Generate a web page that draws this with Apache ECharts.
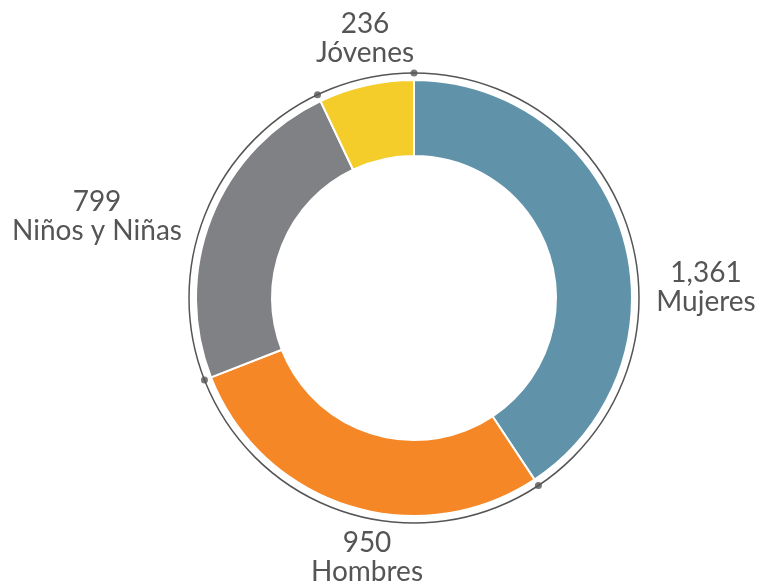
<!DOCTYPE html>
<html><head><meta charset="utf-8">
<script src="https://cdn.jsdelivr.net/npm/echarts@6/dist/echarts.min.js"></script>
<style>html,body{margin:0;padding:0;background:#fff}#c{width:758px;height:586px}</style>
</head><body><div id="c"></div>
<script>
const categories = ['Mujeres', 'Hombres', 'Niños y Niñas', 'Jóvenes'];
const values = [1361, 950, 799, 236];
const valueLabels = ['1,361', '950', '799', '236'];
const colors = ['#6093a9', '#f58727', '#808184', '#f4cd2a'];

const total = values.reduce((a, b) => a + b, 0);
const bounds = [];
let acc = 0;
values.forEach(v => { bounds.push([1, acc]); acc += v; });

const labelPos = [[706, 287], [367, 557], [97, 216], [365, 38]];

const chart = echarts.init(document.getElementById('c'));
chart.setOption({
  animation: false,
  polar: { center: [414, 298], radius: 225 },
  angleAxis: {
    type: 'value', min: 0, max: total, startAngle: 90, clockwise: true,
    axisLine: { show: true, lineStyle: { color: '#555', width: 1.5 } },
    axisTick: { show: false }, axisLabel: { show: false }, splitLine: { show: false }
  },
  radiusAxis: {
    type: 'value', min: 0, max: 1,
    axisLine: { show: false }, axisTick: { show: false }, axisLabel: { show: false }, splitLine: { show: false }
  },
  series: [
    {
      type: 'pie',
      center: [414, 298],
      radius: [142, 218],
      startAngle: 90,
      clockwise: true,
      silent: true,
      itemStyle: { borderColor: '#fff', borderWidth: 2 },
      label: {
        show: true,
        position: 'outside',
        overflow: 'none',
        width: 300,
        formatter: p => '{v|' + valueLabels[p.dataIndex] + '}\n{n|' + p.name + '}',
        rich: {
          v: { fontFamily: 'Lato', fontSize: 28, color: '#555', lineHeight: 29, align: 'center' },
          n: { fontFamily: 'Lato', fontSize: 28, color: '#555', lineHeight: 29, align: 'center' }
        }
      },
      labelLine: { show: false },
      labelLayout: p => ({ x: labelPos[p.dataIndex][0], y: labelPos[p.dataIndex][1], align: 'center', verticalAlign: 'middle' }),
      data: categories.map((c, i) => ({ name: c, value: values[i], itemStyle: { color: colors[i] } }))
    },
    {
      type: 'scatter',
      coordinateSystem: 'polar',
      symbolSize: 7,
      silent: true,
      itemStyle: { color: '#555' },
      data: bounds
    }
  ]
});
</script></body></html>
